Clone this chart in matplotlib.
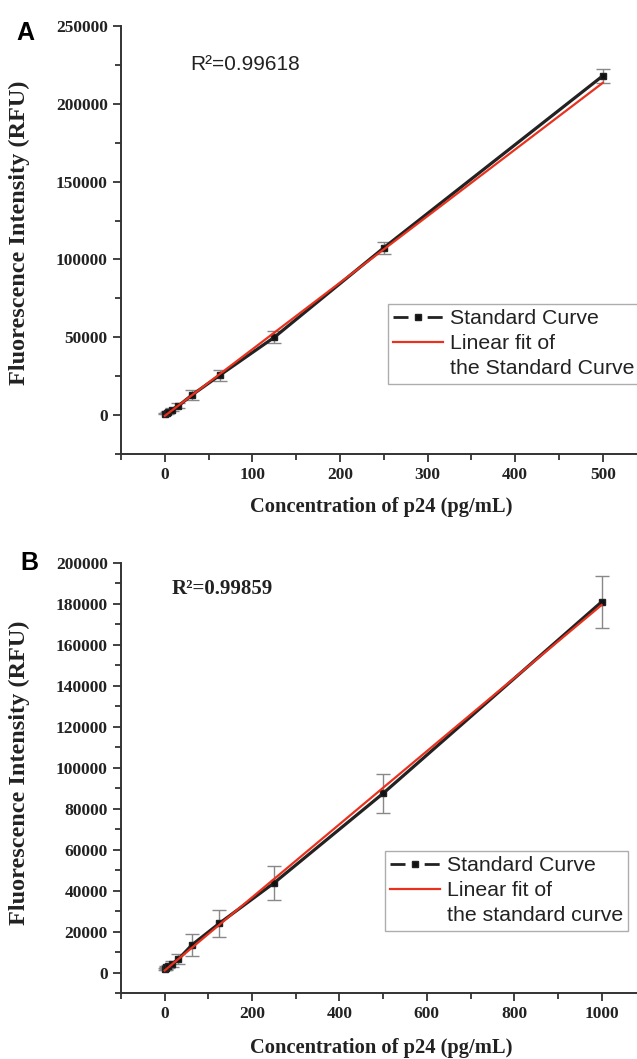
import numpy as np
import matplotlib
matplotlib.use("Agg")
import matplotlib.pyplot as plt
from matplotlib.ticker import MultipleLocator
from matplotlib.lines import Line2D

# ---- data panel A ----
conc_a = [0, 1.95, 3.9, 7.8, 15.6, 31.25, 62.5, 125, 250, 500]
rfu_a = [1000, 1500, 2200, 3500, 6000, 13000, 25500, 50000, 107500, 218000]
err_a = [600, 600, 700, 900, 1500, 3000, 3500, 4000, 4000, 4500]
fit_a = [-500, 428.0]  # intercept, slope
r2_a = "0.99618"
leg_a = ["Standard Curve", "Linear fit of", "the Standard Curve"]

# ---- data panel B ----
conc_b = [0, 1.95, 3.9, 7.8, 15.6, 31.25, 62.5, 125, 250, 500, 1000]
rfu_b = [1500, 2000, 2500, 3000, 4000, 6500, 13500, 24000, 43700, 87500, 181000]
err_b = [500, 600, 700, 900, 1500, 2500, 5500, 6500, 8500, 9500, 12500]
fit_b = [1000, 178.5]
r2_b = "0.99859"
leg_b = ["Standard Curve", "Linear fit of", "the standard curve"]

serif = "Liberation Serif"
sans = "Liberation Sans"
DARK = "#222222"
RED = "#e8321e"

W, H = 637, 1059
fig = plt.figure(figsize=(W / 100, H / 100), dpi=100)


def px_axes(left, top, right, bottom):
    return fig.add_axes([left / W, 1 - bottom / H, (right - left) / W, (bottom - top) / H])


def ftext(x, y, s, **kw):
    return fig.text(x / W, 1 - y / H, s, **kw)


def style(ax, xlim, ylim, xmaj, xmin, ymaj, ymin):
    ax.set_xlim(*xlim)
    ax.set_ylim(*ylim)
    ax.spines["top"].set_visible(False)
    ax.spines["right"].set_visible(False)
    for s in ("left", "bottom"):
        ax.spines[s].set_linewidth(1.4)
        ax.spines[s].set_color("#333333")
    ax.xaxis.set_major_locator(MultipleLocator(xmaj))
    ax.xaxis.set_minor_locator(MultipleLocator(xmin))
    ax.yaxis.set_major_locator(MultipleLocator(ymaj))
    ax.yaxis.set_minor_locator(MultipleLocator(ymin))
    ax.tick_params(which="major", length=6, width=1.3, color="#333333")
    ax.tick_params(which="minor", length=4, width=1.3, color="#333333")
    for lab in ax.get_xticklabels() + ax.get_yticklabels():
        lab.set_fontfamily(serif)
        lab.set_fontweight("bold")
        lab.set_fontsize(12.5)
        lab.set_color(DARK)


def panel(ax, conc, rfu, err, fit):
    ax.errorbar(conc, rfu, yerr=err, fmt="none", ecolor="#888888", elinewidth=1.0,
                capsize=5, capthick=1.0, zorder=2)
    ax.plot(conc, rfu, color=DARK, lw=2.3, marker="s", ms=4.5,
            markerfacecolor="#111111", zorder=3)
    xf = np.array([conc[0], conc[-1]])
    ax.plot(xf, fit[0] + fit[1] * xf, color=RED, lw=1.6, zorder=4)


def add_legend(ax, labels, left, top, ax_left, ax_bottom, ax_w, ax_h):
    h1 = Line2D([], [], color=DARK, lw=2.0, ls=(0, (5.4, 6.9)), marker="s", ms=4.5,
                markerfacecolor="#111111")
    h2 = Line2D([], [], color=RED, lw=1.6)
    h3 = Line2D([], [], color="none", lw=0)
    leg = ax.legend([h1, h2, h3], labels, loc="upper left",
                    bbox_to_anchor=((left - ax_left) / ax_w, (ax_bottom - top) / ax_h),
                    prop={"family": sans, "size": 15.3}, frameon=True, fancybox=False,
                    edgecolor="#999999", handlelength=2.35, handletextpad=0.3,
                    labelspacing=0.28, borderpad=0.25, borderaxespad=0)
    leg.get_frame().set_linewidth(1.0)
    for t in leg.get_texts():
        t.set_color(DARK)
    return leg


# Panel A
axA = px_axes(121, 26, 637, 454)
panel(axA, conc_a, rfu_a, err_a, fit_a)
style(axA, (-50, 539), (-25000, 250000), 100, 50, 50000, 25000)
add_legend(axA, leg_a, 388, 304, 121, 454, 516, 428)

# Panel B
axB = px_axes(121, 563, 637, 993)
panel(axB, conc_b, rfu_b, err_b, fit_b)
style(axB, (-100, 1081), (-10000, 200000), 200, 100, 20000, 10000)
add_legend(axB, leg_b, 385, 851, 121, 993, 516, 430)

# annotations
ftext(190, 64, "R\u00b2=" + r2_a, fontsize=15, family=sans, color=DARK, va="center")
ftext(172, 589, "R\u00b2=" + r2_b, fontsize=15, family=serif, fontweight="bold",
      color=DARK, va="center")

ftext(25, 33, "A", fontsize=18, family=sans, fontweight="bold", va="center", ha="center")
ftext(29, 563, "B", fontsize=18, family=sans, fontweight="bold", va="center", ha="center")

ylab = "Fluorescence Intensity (RFU)"
xlab = "Concentration of p24 (pg/mL)"
ftext(19, 233, ylab, fontsize=17.5, family=serif, fontweight="bold",
      rotation=90, va="center", ha="center", color=DARK)
ftext(19, 773, ylab, fontsize=17.5, family=serif, fontweight="bold",
      rotation=90, va="center", ha="center", color=DARK)
ftext(381, 507, xlab, fontsize=14.8, family=serif, fontweight="bold",
      va="center", ha="center", color=DARK)
ftext(381, 1048, xlab, fontsize=14.8, family=serif, fontweight="bold",
      va="center", ha="center", color=DARK)

fig.savefig("out.png", dpi=100)
